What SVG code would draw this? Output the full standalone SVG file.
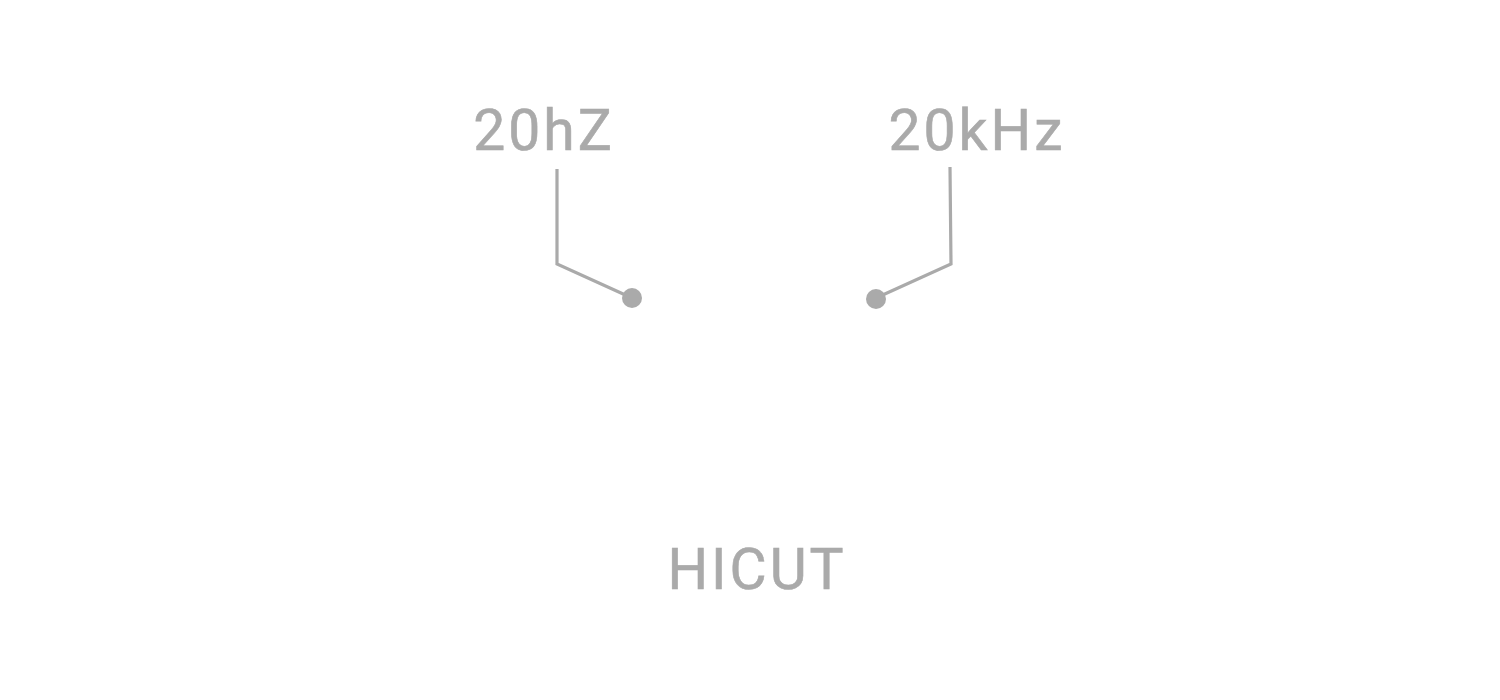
<svg xmlns="http://www.w3.org/2000/svg" width="1500" height="700" viewBox="0 0 1500 700">
<style>
.lbl{font-family:Roboto,"Liberation Sans",sans-serif;font-size:57px;fill:#aaaaaa;letter-spacing:3px;stroke:#aaaaaa;stroke-width:0.6}
.ln{fill:none;stroke:#aaaaaa;stroke-width:3.2}
.dot{fill:#aaaaaa}
</style>
<rect width="1500" height="700" fill="#ffffff"/>
<g id="connectors">
<polyline class="ln" points="557,169 557,264 632,298"/>
<polyline class="ln" points="950,167 951,264 876,298"/>
</g>
<g id="node-20hz">
<text class="lbl" x="544" y="150" text-anchor="middle">20hZ</text>
<circle class="dot" cx="632" cy="298" r="10"/>
</g>
<g id="node-20khz">
<text class="lbl" x="977" y="150" text-anchor="middle">20kHz</text>
<circle class="dot" cx="876" cy="299" r="10"/>
</g>
<g id="node-hicut">
<text class="lbl" x="757" y="589" text-anchor="middle">HICUT</text>
</g>
</svg>
